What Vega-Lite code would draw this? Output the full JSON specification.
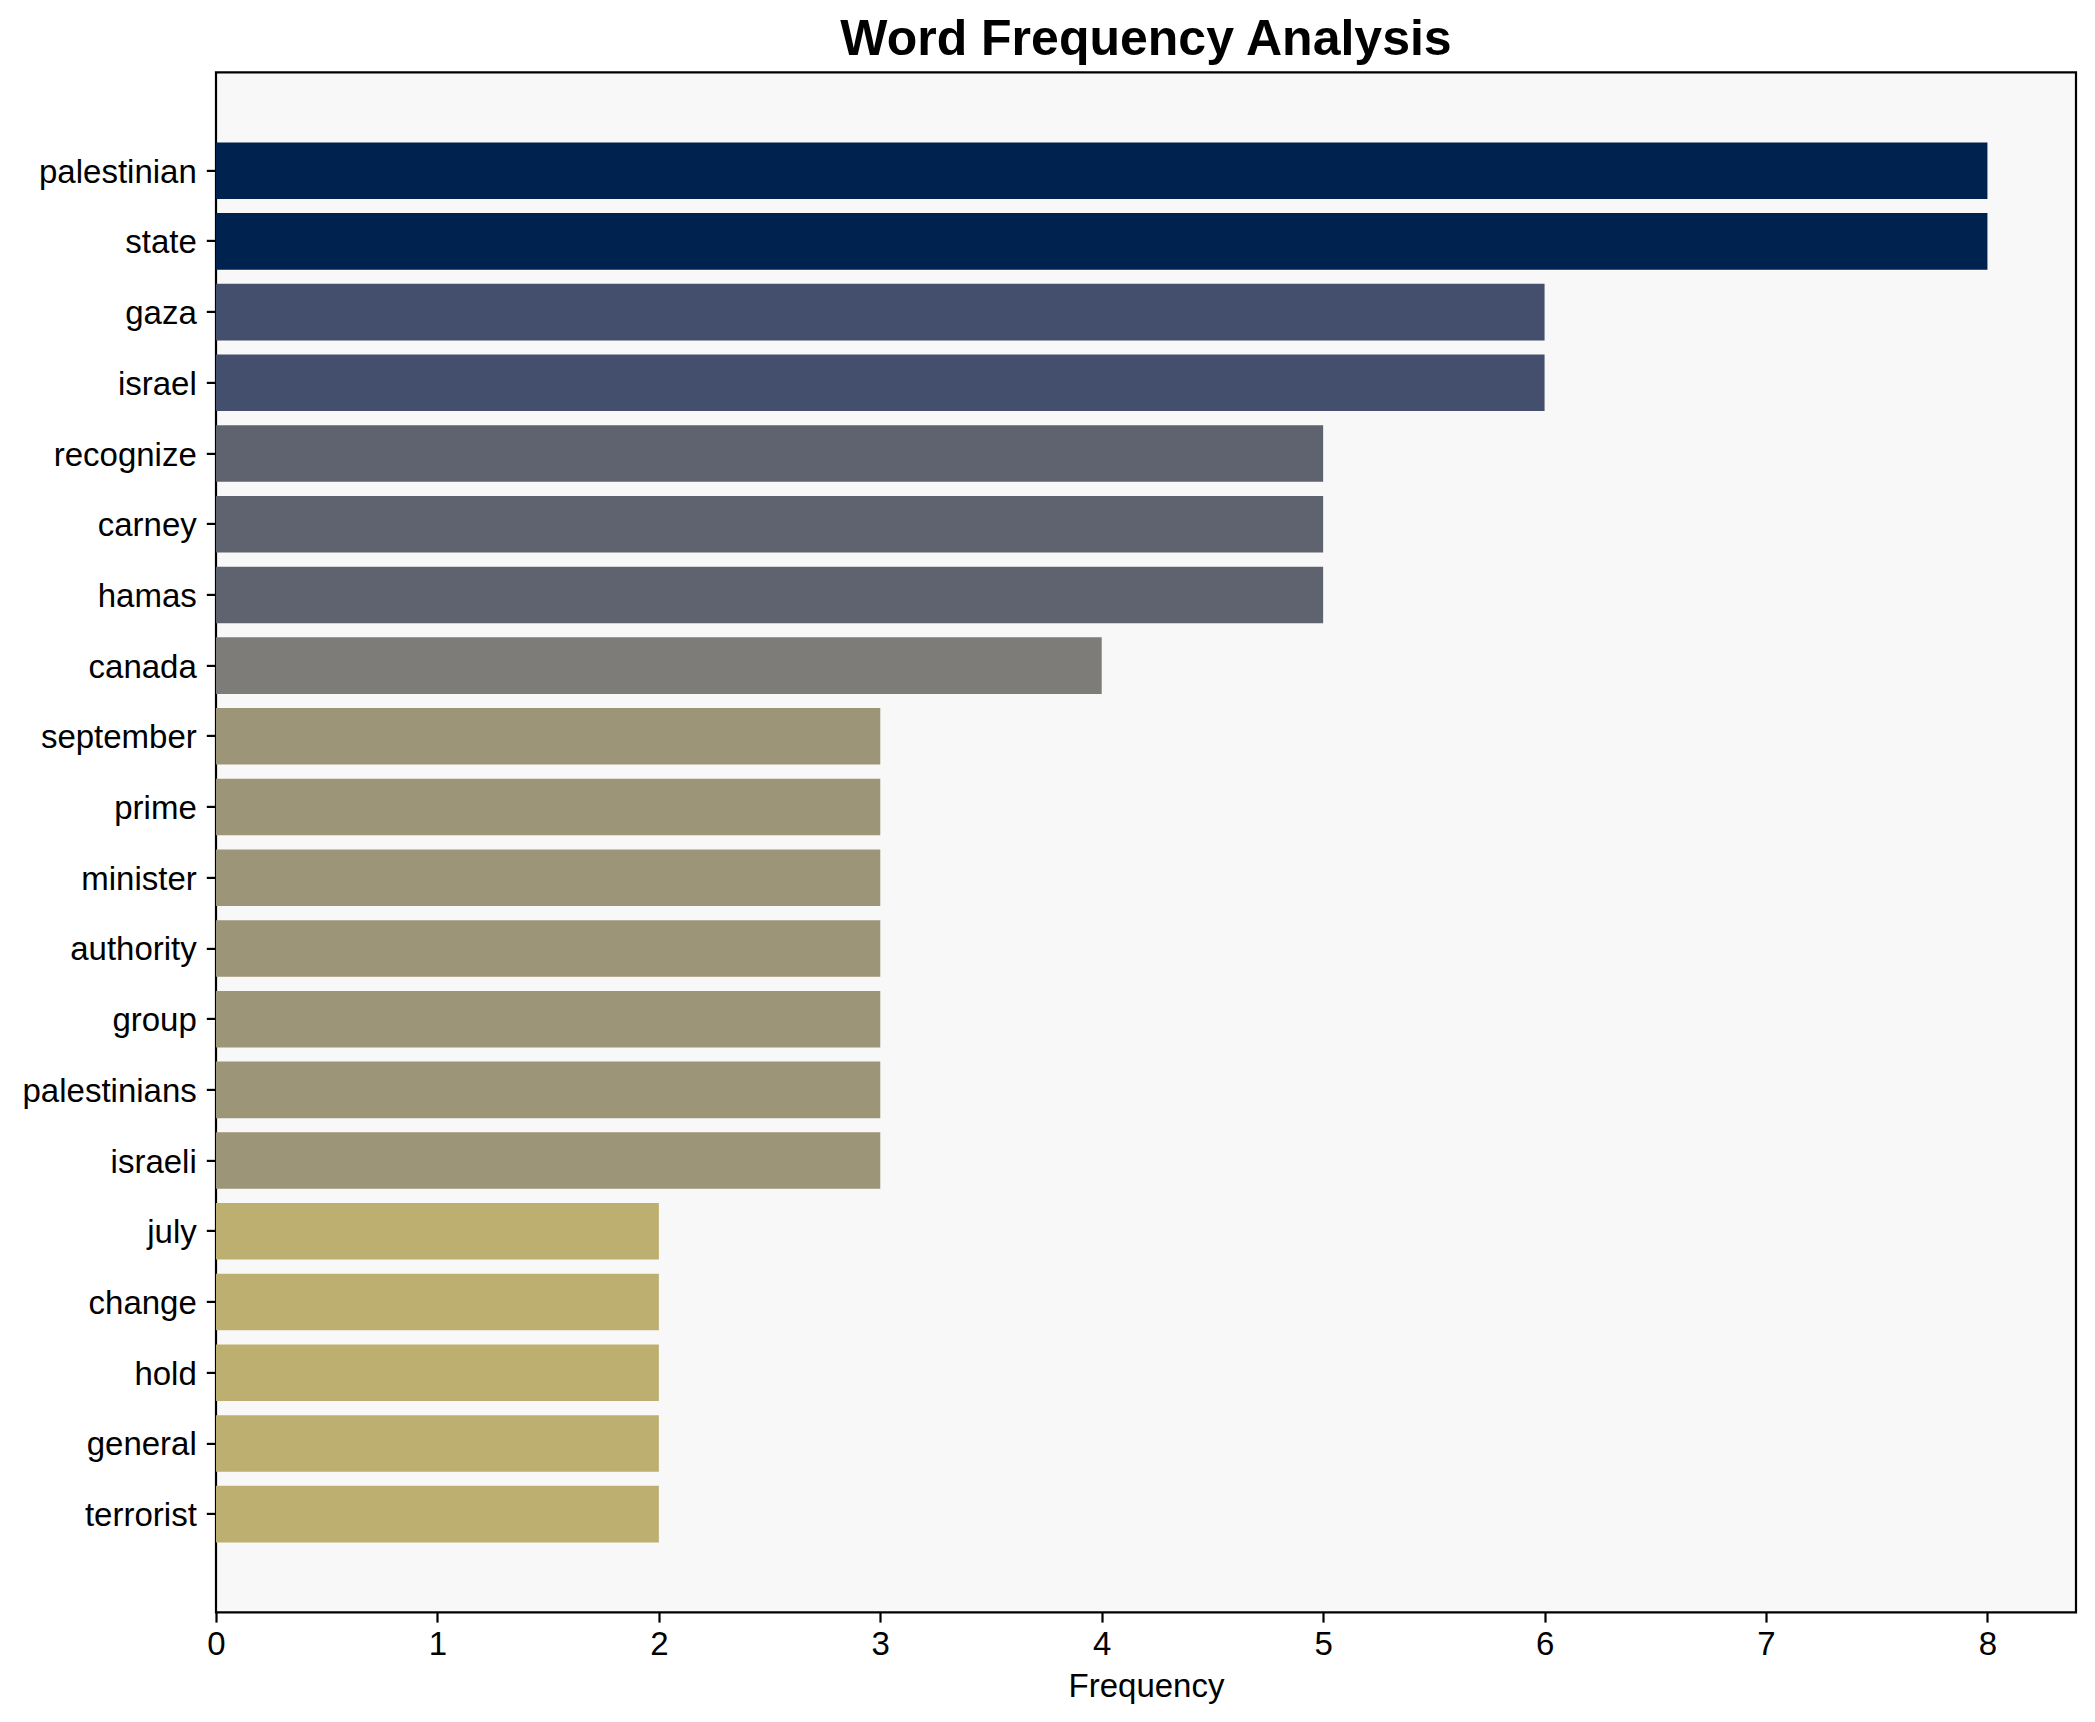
{
  "$schema": "https://vega.github.io/schema/vega-lite/v6.json",
  "autosize": "none",
  "padding": {"left": 216, "top": 72.4, "right": 19, "bottom": 109.6},
  "width": 1860,
  "height": 1540,
  "background": "white",
  "title": {
    "text": "Word Frequency Analysis",
    "font": "Liberation Sans",
    "fontSize": 50,
    "fontWeight": "bold",
    "color": "black",
    "anchor": "middle",
    "frame": "group",
    "baseline": "alphabetic",
    "offset": -33
  },
  "config": {
    "view": {"fill": "#f8f8f8", "stroke": "black", "strokeWidth": 2.2},
    "axis": {
      "labelFont": "Liberation Sans",
      "titleFont": "Liberation Sans",
      "labelFontSize": 33,
      "titleFontSize": 33,
      "titleFontWeight": "normal",
      "labelColor": "black",
      "titleColor": "black",
      "tickColor": "black",
      "tickWidth": 2.2,
      "tickSize": 9.7,
      "domain": false,
      "grid": false
    }
  },
  "data": {
    "values": [
      {"word": "palestinian", "freq": 8},
      {"word": "state", "freq": 8},
      {"word": "gaza", "freq": 6},
      {"word": "israel", "freq": 6},
      {"word": "recognize", "freq": 5},
      {"word": "carney", "freq": 5},
      {"word": "hamas", "freq": 5},
      {"word": "canada", "freq": 4},
      {"word": "september", "freq": 3},
      {"word": "prime", "freq": 3},
      {"word": "minister", "freq": 3},
      {"word": "authority", "freq": 3},
      {"word": "group", "freq": 3},
      {"word": "palestinians", "freq": 3},
      {"word": "israeli", "freq": 3},
      {"word": "july", "freq": 2},
      {"word": "change", "freq": 2},
      {"word": "hold", "freq": 2},
      {"word": "general", "freq": 2},
      {"word": "terrorist", "freq": 2}
    ]
  },
  "mark": {"type": "bar"},
  "encoding": {
    "y": {
      "field": "word",
      "type": "nominal",
      "sort": null,
      "scale": {"paddingInner": 0.2, "paddingOuter": 0.99},
      "axis": {"title": null, "labelPadding": 10, "labelOffset": 2}
    },
    "x": {
      "field": "freq",
      "type": "quantitative",
      "scale": {"domain": [0, 8.4], "nice": false, "zero": true},
      "axis": {"title": "Frequency", "values": [0, 1, 2, 3, 4, 5, 6, 7, 8], "labelFlush": false, "labelPadding": 6, "titlePadding": 9}
    },
    "color": {
      "field": "freq",
      "type": "ordinal",
      "scale": {
        "domain": [8, 6, 5, 4, 3, 2],
        "range": ["#00224e", "#434f6d", "#5f636f", "#7d7c78", "#9c9577", "#bcaf6f"]
      },
      "legend": null
    }
  }
}
